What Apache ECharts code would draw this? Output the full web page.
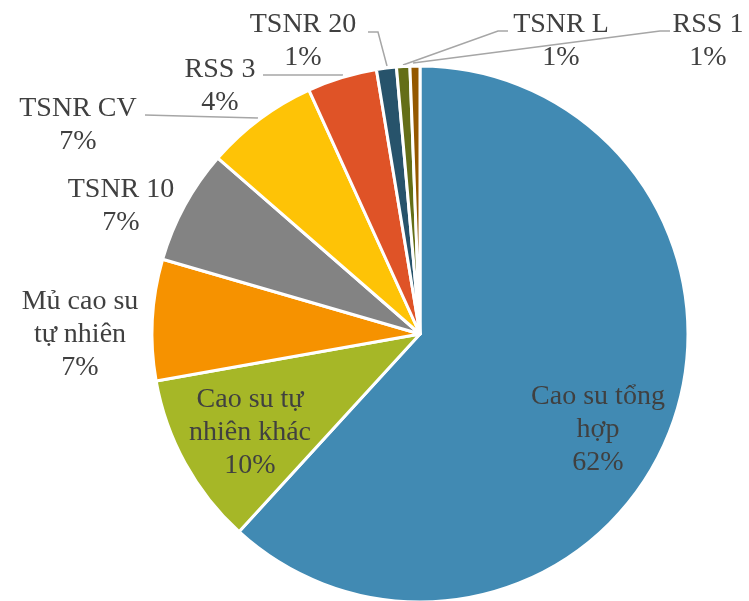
<!DOCTYPE html>
<html>
<head>
<meta charset="utf-8">
<script src="https://cdn.jsdelivr.net/npm/echarts@6/dist/echarts.min.js"></script>
<style>
  html, body { margin: 0; padding: 0; background: #fff; }
  #mychart { width: 749px; height: 601px; }
</style>
</head>
<body>
<div id="mychart"></div>
<script>
// danh mục (theo chiều kim đồng hồ, bắt đầu từ 12 giờ)
const categories = ["Cao su tổng hợp", "Cao su tự nhiên khác", "Mủ cao su tự nhiên", "TSNR 10",
  "TSNR CV", "RSS 3", "TSNR 20", "TSNR L", "RSS 1"];
// tỷ trọng (%)
const shares = [61.8, 10.4, 7.3, 6.9, 6.8, 4.2, 1.2, 0.8, 0.6];
// cách ngắt dòng nhãn
const labelLines = [["Cao su tổng", "hợp"], ["Cao su tự", "nhiên khác"], ["Mủ cao su", "tự nhiên"], ["TSNR 10"],
  ["TSNR CV"], ["RSS 3"], ["TSNR 20"], ["TSNR L"], ["RSS 1"]];

const colors = ["#418AB3", "#A6B727", "#F69200", "#838383", "#FEC306", "#DF5327", "#27536B", "#646E17", "#945800"];

// vị trí nhãn (tâm khối chữ) và đường dẫn
const labelPos = [
  { x: 598, y: 430 },
  { x: 250, y: 433 },
  { x: 80, y: 335 },
  { x: 121, y: 206 },
  { x: 78, y: 125, line: [[258, 118], [200, 116.5], [145, 115]] },
  { x: 220, y: 86, line: [[343, 75], [300, 75], [263, 75]] },
  { x: 303, y: 41, line: [[387, 66], [378, 32], [368, 32]] },
  { x: 561, y: 41, line: [[403, 65], [498, 31], [508, 31]] },
  { x: 708, y: 41, line: [[413, 63], [660, 31], [670, 31]] }
];

const myChart = echarts.init(document.getElementById("mychart"));
const option = {
  backgroundColor: "#fff",
  animation: false,
  series: [{
    type: "pie",
    center: [420, 334],
    radius: 268,
    startAngle: 90,
    clockwise: true,
    avoidLabelOverlap: false,
    data: categories.map((name, i) => ({
      name: name,
      value: shares[i],
      itemStyle: { color: colors[i] },
      labelLine: { show: !!labelPos[i].line }
    })),
    itemStyle: { borderColor: "#fff", borderWidth: 3 },
    label: {
      show: true,
      position: "outside",
      fontFamily: "Liberation Serif",
      fontSize: 28,
      lineHeight: 33,
      color: "#404040",
      align: "center",
      formatter: function (p) {
        return labelLines[p.dataIndex].join("\n") + "\n" + Math.round(p.percent) + "%";
      }
    },
    labelLine: {
      show: true,
      lineStyle: { color: "#A6A6A6", width: 1.5 }
    },
    labelLayout: function (params) {
      const pos = labelPos[params.dataIndex];
      const res = { x: pos.x, y: pos.y, align: "center", verticalAlign: "middle" };
      if (pos.line) res.labelLinePoints = pos.line;
      return res;
    }
  }]
};
myChart.setOption(option);
window.addEventListener("resize", () => {
  myChart.resize();
});
</script>
</body>
</html>
